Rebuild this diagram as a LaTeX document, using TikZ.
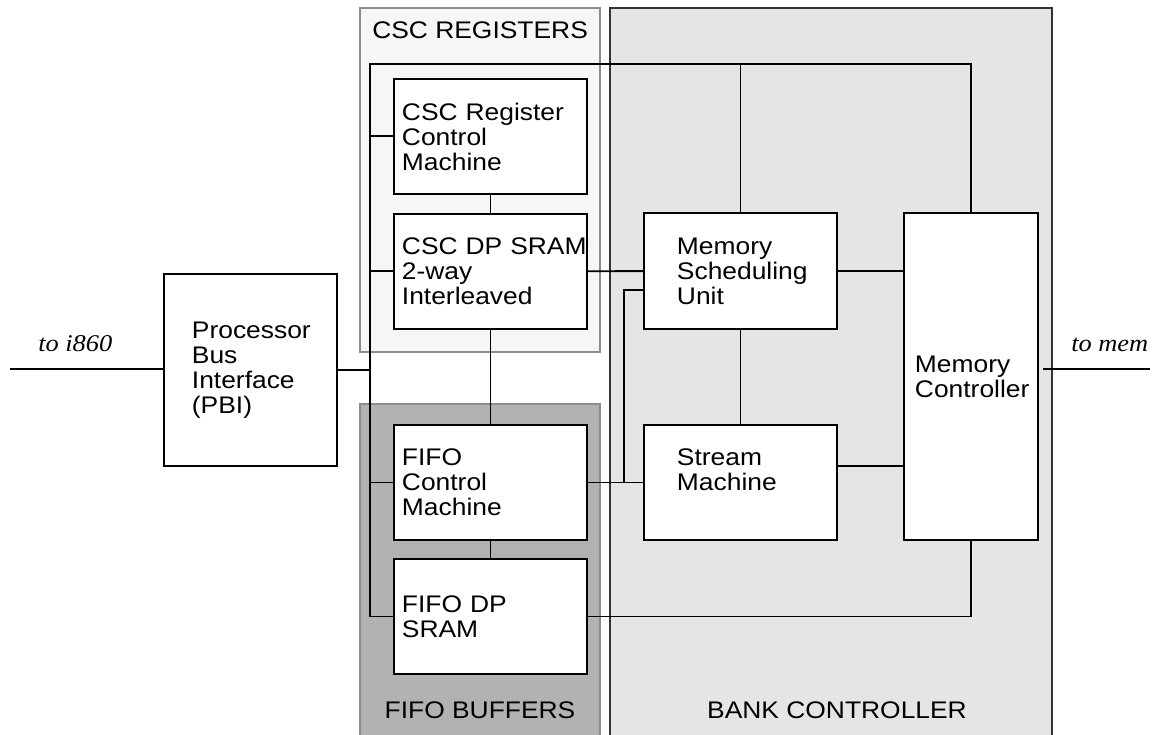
\documentclass[tikz,border=0pt]{standalone}
\usepackage{fontspec}
\setmainfont[FakeStretch=1.1]{Liberation Sans}
\newfontfamily\tofont[FakeStretch=1.1]{Liberation Serif}
\usepackage{tikz}
\tikzset{>=latex}
\definecolor{cscfill}{gray}{0.965}
\definecolor{fifofill}{gray}{0.70}
\definecolor{bankfill}{gray}{0.90}
\tikzset{
  unit/.style={draw, fill=white, line width=1.9pt, anchor=north west,
    inner ysep=0pt, align=left, font=\fontsize{24}{25}\selectfont},
  grp/.style={anchor=base, font=\fontsize{24}{25}\selectfont},
  ext/.style={anchor=base west, font=\tofont\itshape\fontsize{24}{25}\selectfont}
}

\begin{document}
\begin{tikzpicture}[x=1pt,y=-1pt,line width=1.9pt]
            \useasboundingbox (0,0) rectangle (1160,735);
            % the three areas
            \draw[fill=cscfill, draw=gray!90, line width=1.3pt] (360,8) rectangle (600,352);
            \draw[fill=fifofill, draw=gray!90, line width=1.3pt] (360,404) rectangle (600,745);
            \draw[fill=bankfill, draw=black!80, line width=1.3pt] (610,8) rectangle (1052,745);
            \node[grp, anchor=base west] (cscl) at (368,39) {CSC REGISTERS};
            \node[grp] (fifol) at (480,718) {FIFO BUFFERS};
            \node[grp] (bankl) at (837,718) {BANK CONTROLLER};
            % blocks
            \node[unit, minimum width=173pt, minimum height=192pt, text width=117pt, inner xsep=28pt] (pbi) at (163,273) {Processor\\Bus\\Interface\\(PBI)};
            \node[unit, minimum width=193pt, minimum height=115pt, text width=177pt, inner xsep=8pt] (crcm) at (393,78) {CSC Register\\Control\\Machine};
            \node[unit, minimum width=193pt, minimum height=115pt, text width=177pt, inner xsep=8pt] (csram) at (393,213) {CSC~DP~SRAM\\2-way\\Interleaved};
            \node[unit, minimum width=193pt, minimum height=115pt, text width=177pt, inner xsep=8pt] (fcm) at (393,424) {FIFO\\Control\\Machine};
            \node[unit, minimum width=193pt, minimum height=115pt, text width=177pt, inner xsep=8pt] (fsram) at (393,558) {FIFO DP\\SRAM};
            \node[unit, minimum width=193pt, minimum height=116pt, text width=127pt, inner xsep=33pt] (msu) at (643,212) {Memory\\Scheduling\\Unit};
            \node[unit, minimum width=193pt, minimum height=115pt, text width=127pt, inner xsep=33pt] (sm) at (643,424) {Stream\\Machine\\\mbox{}};
            \node[unit, minimum width=134pt, minimum height=327pt, text width=112pt, inner xsep=11pt] (mc) at (903,212) {Memory\\Controller};
            % outside links
            \node[ext] (ti) at (34,352) {to i860};
            \node[ext] (tm) at (1067,352) {to mem};
            \coordinate (ci) at (10,369);
            \coordinate (cm0) at (1043,369);
            \coordinate (cm) at (1150,369);
            \draw (ci) -- (ci -| pbi.west);
            \draw (cm0) -- (cm);
            % bus on the left
            \coordinate (bl) at (370,64);
            \draw (fsram.west) -| (bl) -| (mc.north);
            \draw (msu.north) -- (msu.north |- bl);
            \draw (pbi.east) -- (pbi.east -| bl);
            \draw (crcm.west) -- (crcm.west -| bl);
            \draw (csram.west) -- (csram.west -| bl);
            \draw (fcm.west) -- (fcm.west -| bl);
            % links between blocks
            \draw (crcm) -- (csram);
            \draw (csram) -- (fcm);
            \draw (fcm) -- (fsram);
            \draw (csram) -- (msu);
            \draw (fcm) -- (sm);
            \draw (msu) -- (sm);
            \coordinate (j) at (624,290);
            \draw (j |- fcm.east) -- (j) -- (j -| msu.west);
            \draw (msu.east) -- (msu.east -| mc.west);
            \coordinate (smr) at ([yshift=16.5pt]sm.east);
            \draw (smr) -- (smr -| mc.west);
            \draw (fsram.east) -| (mc.south);
        \end{tikzpicture}
\end{document}
